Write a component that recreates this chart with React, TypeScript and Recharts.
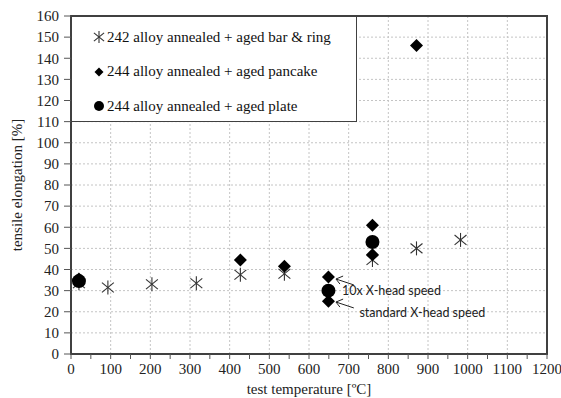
import React from 'react';
import {
  ScatterChart, Scatter, XAxis, YAxis, CartesianGrid,
  ReferenceArea, ReferenceLine, ReferenceDot,
} from 'recharts';

// 242 alloy annealed + aged bar & ring
const barRingTemp = [20, 93, 204, 316, 427, 538, 760, 871, 982];
const barRingElong = [33.5, 31.5, 33, 33.5, 37.5, 38, 44.5, 50, 54];

// 244 alloy annealed + aged pancake
const pancakeTemp = [20, 427, 538, 649, 649, 760, 760, 871];
const pancakeElong = [35.5, 44.5, 41.5, 36.5, 25, 61, 47, 146];

// 244 alloy annealed + aged plate
const plateTemp = [20, 649, 760];
const plateElong = [34.5, 30, 53];

const xTicks = [0, 50, 100, 150, 200, 250, 300, 350, 400, 450, 500, 550, 600, 650, 700, 750, 800, 850, 900, 950, 1000, 1050, 1100, 1150, 1200];
const xGrid = [100, 200, 300, 400, 500, 600, 700, 800, 900, 1000, 1100];
const yTicks = [0, 10, 20, 30, 40, 50, 60, 70, 80, 90, 100, 110, 120, 130, 140, 150, 160];

const seriesNames = [
  '242 alloy annealed + aged bar & ring',
  '244 alloy annealed + aged pancake',
  '244 alloy annealed + aged plate',
];

// annotation arrows: [tip, tail, headA, headB] in data units
const arrowStd = [[668, 24.6], [713, 21.8], [686, 26.0], [678, 22.2]];
const arrow10x = [[668, 35.5], [713, 32.7], [686, 36.9], [678, 33.1]];

const toPoints = (xs: number[], ys: number[]) => xs.map((x, i) => ({ x, y: ys[i] }));

const serif = "'Times New Roman', 'Liberation Serif', Tinos, 'DejaVu Serif', 'Noto Serif', serif";
const sans = "Lato, 'Open Sans', sans-serif";

const Star = ({ cx, cy, size = 7 }: any) => {
  const d = size;
  const e = d * 0.85;
  return (
    <g stroke="#333" strokeWidth={1.1}>
      <line x1={cx} y1={cy - d} x2={cx} y2={cy + d} />
      <line x1={cx - e} y1={cy - d * 0.7} x2={cx + e} y2={cy + d * 0.7} />
      <line x1={cx - e} y1={cy + d * 0.7} x2={cx + e} y2={cy - d * 0.7} />
    </g>
  );
};

const Diamond = ({ cx, cy, size = 6.5 }: any) => (
  <path d={`M${cx},${cy - size}L${cx + size},${cy}L${cx},${cy + size}L${cx - size},${cy}Z`} fill="#000" />
);

const Dot = ({ cx, cy, r = 7 }: any) => <circle cx={cx} cy={cy} r={r} fill="#000" />;

const LegendBox = () => (
  <div
    style={{
      position: 'absolute',
      left: 72,
      top: 17,
      width: 285,
      height: 105,
      background: '#fff',
      borderRight: '1px solid #404040',
      borderBottom: '1px solid #404040',
      fontFamily: serif,
      fontSize: 15,
      color: '#111',
      boxSizing: 'border-box',
      paddingTop: 3,
    }}
  >
    {seriesNames.map((name, i) => (
      <div key={name} style={{ display: 'flex', alignItems: 'center', height: 34.5, paddingLeft: 20 }}>
        <svg width={14} height={14} style={{ marginRight: 1 }}>
          {i === 0 && <Star cx={7} cy={7} size={6} />}
          {i === 1 && <Diamond cx={7} cy={7} size={4.5} />}
          {i === 2 && <Dot cx={7} cy={7} r={5} />}
        </svg>
        <span>{name}</span>
      </div>
    ))}
  </div>
);

const arrowLines = (a: number[][], key: string) => [
  <ReferenceLine key={key + 's'} segment={[{ x: a[0][0], y: a[0][1] }, { x: a[1][0], y: a[1][1] }]} stroke="#222" strokeWidth={1} ifOverflow="visible" />,
  <ReferenceLine key={key + 'a'} segment={[{ x: a[0][0], y: a[0][1] }, { x: a[2][0], y: a[2][1] }]} stroke="#222" strokeWidth={1} ifOverflow="visible" />,
  <ReferenceLine key={key + 'b'} segment={[{ x: a[0][0], y: a[0][1] }, { x: a[3][0], y: a[3][1] }]} stroke="#222" strokeWidth={1} ifOverflow="visible" />,
];

const NoteLabel = ({ viewBox, text }: any) => (
  <text x={viewBox.x} y={viewBox.y} dy={4} fontFamily={sans} fontSize={12.5} fill="#222">{text}</text>
);

const tickStyle = { fontFamily: serif, fontSize: 15, fill: '#222' };

export default function App() {
  return (
    <div style={{ position: 'absolute', left: 0, top: 0, width: 561, height: 398, background: '#fff', fontFamily: serif }}>
      <ScatterChart width={561} height={398} margin={{ top: 16, right: 14, bottom: 0, left: 0 }}>
        <CartesianGrid stroke="#c4c4c4" strokeDasharray="2 2" verticalValues={xGrid} />
        <XAxis
          type="number"
          dataKey="x"
          domain={[0, 1200]}
          ticks={xTicks}
          interval={0}
          height={44}
          tickFormatter={(v: number) => (v % 100 === 0 ? String(v) : '')}
          axisLine={false}
          tickLine={{ stroke: '#555' }}
          tickSize={5}
          tickMargin={4}
          tick={tickStyle}
          label={{ value: 'test temperature  [ºC]', position: 'insideBottom', offset: 4, style: { fontFamily: serif, fontSize: 15, fill: '#222' } }}
        />
        <YAxis
          type="number"
          dataKey="y"
          domain={[0, 160]}
          ticks={yTicks}
          interval={0}
          width={71}
          axisLine={false}
          tickLine={{ stroke: '#555' }}
          tickSize={7}
          tickMargin={5}
          tick={tickStyle}
          label={{ value: 'tensile elongation  [%]', angle: -90, position: 'insideLeft', offset: 17, style: { fontFamily: serif, fontSize: 15, fill: '#222', textAnchor: 'middle' } }}
        />
        <ReferenceArea x1={0} x2={1200} y1={0} y2={160} fill="none" stroke="#404040" strokeWidth={2} ifOverflow="visible" />
        <Scatter name={seriesNames[0]} data={toPoints(barRingTemp, barRingElong)} shape={(p: any) => <Star cx={p.cx} cy={p.cy} />} isAnimationActive={false} />
        <Scatter name={seriesNames[1]} data={toPoints(pancakeTemp, pancakeElong)} shape={(p: any) => <Diamond cx={p.cx} cy={p.cy} />} isAnimationActive={false} />
        <Scatter name={seriesNames[2]} data={toPoints(plateTemp, plateElong)} shape={(p: any) => <Dot cx={p.cx} cy={p.cy} />} isAnimationActive={false} />
        {arrowLines(arrow10x, 'a10')}
        {arrowLines(arrowStd, 'ast')}
        <ReferenceDot x={683} y={30} r={0} ifOverflow="visible" label={<NoteLabel text="10x X-head speed" />} />
        <ReferenceDot x={727} y={19.5} r={0} ifOverflow="visible" label={<NoteLabel text="standard X-head speed" />} />
      </ScatterChart>
      <LegendBox />
    </div>
  );
}
